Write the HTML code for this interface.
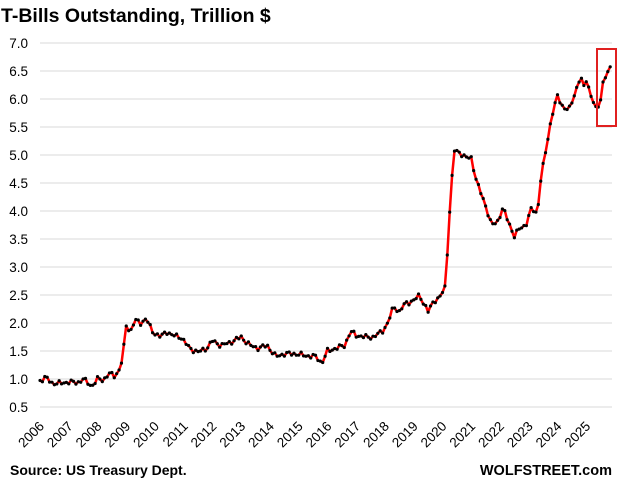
<!DOCTYPE html>
<html><head><meta charset="utf-8"><style>
body{margin:0;background:#fff;}
svg text{font-family:"Liberation Sans",Arial,sans-serif;}
</style></head><body>
<svg id="s" width="624" height="485" xmlns="http://www.w3.org/2000/svg">
<text x="1" y="22" font-size="19.5" font-weight="bold" fill="#000">T-Bills Outstanding, Trillion $</text>
<g id="grid"></g>
<g id="lbl"></g>
<polyline id="ln" fill="none" stroke="#f00" stroke-width="2.5" stroke-linejoin="round"/>
<g id="dots" fill="#000"></g>
<rect x="597" y="49" width="19" height="77" fill="none" stroke="#e02020" stroke-width="2"/>
<text x="10" y="475" font-size="14" font-weight="bold">Source: US Treasury Dept.</text>
<text x="612" y="475" font-size="14.5" font-weight="bold" text-anchor="end">WOLFSTREET.com</text>
</svg>
<script>
var ns="http://www.w3.org/2000/svg";
function X(t){return 40+(t-2006)*28.75;}
function Y(v){return 407-(v-0.5)*56;}
var g=document.getElementById('grid'),l=document.getElementById('lbl');
for(var i=0;i<=13;i++){var v=0.5+i*0.5,y=Y(v);
var ln=document.createElementNS(ns,'line');ln.setAttribute('x1',40);ln.setAttribute('x2',612);ln.setAttribute('y1',y);ln.setAttribute('y2',y);ln.setAttribute('stroke','#d9d9d9');ln.setAttribute('stroke-width','1');g.appendChild(ln);
var t=document.createElementNS(ns,'text');t.setAttribute('x',28);t.setAttribute('y',y+5);t.setAttribute('font-size','13.5');t.setAttribute('text-anchor','end');t.textContent=v.toFixed(1);l.appendChild(t);}
for(var yr=2006;yr<=2025;yr++){var x=X(yr)+5,t=document.createElementNS(ns,'text');t.setAttribute('font-size','13.5');t.setAttribute('text-anchor','end');t.setAttribute('transform','translate('+x+',427) rotate(-45)');t.textContent=yr;l.appendChild(t);}
var d=[[2006.0,0.97],[2006.2,1.03],[2006.4,0.93],[2006.7,0.92],[2007.0,0.95],[2007.3,0.93],[2007.5,1.0],[2007.8,0.87],[2008.0,1.0],[2008.2,0.98],[2008.4,1.1],[2008.6,1.05],[2008.8,1.2],[2008.9,1.5],[2009.0,1.95],[2009.15,1.85],[2009.3,2.05],[2009.5,2.0],[2009.7,2.08],[2009.9,1.85],[2010.2,1.75],[2010.4,1.85],[2010.6,1.78],[2010.9,1.75],[2011.2,1.55],[2011.5,1.48],[2011.8,1.55],[2012.0,1.68],[2012.3,1.6],[2012.6,1.65],[2013.0,1.75],[2013.3,1.6],[2013.6,1.55],[2013.9,1.6],[2014.2,1.4],[2014.5,1.45],[2014.9,1.45],[2015.2,1.42],[2015.6,1.4],[2015.8,1.28],[2016.0,1.5],[2016.3,1.55],[2016.6,1.6],[2016.8,1.85],[2017.0,1.78],[2017.3,1.75],[2017.6,1.75],[2017.9,1.85],[2018.1,2.0],[2018.3,2.3],[2018.5,2.2],[2018.7,2.35],[2019.0,2.4],[2019.2,2.5],[2019.5,2.2],[2019.7,2.4],[2019.9,2.45],[2020.1,2.65],[2020.25,4.0],[2020.4,5.08],[2020.6,5.05],[2020.8,4.95],[2021.0,4.95],[2021.2,4.5],[2021.5,4.1],[2021.7,3.75],[2021.9,3.8],[2022.1,4.05],[2022.3,3.8],[2022.5,3.55],[2022.7,3.7],[2022.9,3.75],[2023.1,4.05],[2023.3,3.95],[2023.4,4.5],[2023.6,5.1],[2023.8,5.7],[2024.0,6.05],[2024.2,5.85],[2024.4,5.8],[2024.6,6.1],[2024.8,6.4],[2024.9,6.2],[2025.0,6.35],[2025.2,6.0],[2025.35,5.8],[2025.5,6.0],[2025.6,6.35],[2025.75,6.45],[2025.85,6.6]];
var pts=[],dots=document.getElementById('dots'),j=0,k=0;
for(var t=2006.0;t<=2025.86;t+=1/12){k++;while(j<d.length-2&&d[j+1][0]<t)j++;var a=d[j],b=d[j+1],f=Math.max(0,Math.min(1,(t-a[0])/(b[0]-a[0])));var v=a[1]+(b[1]-a[1])*f;
if(t<2025.8) v+=0.03*Math.sin(k*2.3)+0.02*Math.sin(k*5.1);
var px=X(t),py=Y(v);pts.push(px.toFixed(1)+','+py.toFixed(1));var c=document.createElementNS(ns,'circle');c.setAttribute('cx',px);c.setAttribute('cy',py);c.setAttribute('r','1.6');dots.appendChild(c);}
document.getElementById('ln').setAttribute('points',pts.join(' '));
</script>
</body></html>
